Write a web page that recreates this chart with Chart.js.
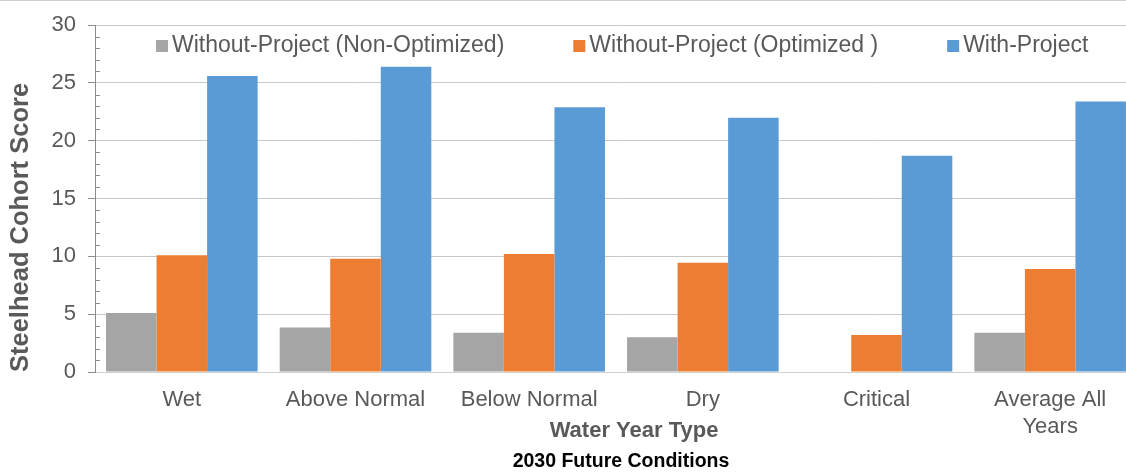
<!DOCTYPE html>
<html>
<head>
<meta charset="utf-8">
<script src="https://cdn.jsdelivr.net/npm/chart.js@4.4.1/dist/chart.umd.min.js"></script>
<style>
  html, body { margin: 0; padding: 0; background: #fff; overflow: hidden; }
  .wrap { position: relative; width: 1126px; height: 474px; overflow: hidden; }
  .topline { position: absolute; left: 0; top: 0; width: 1126px; height: 1px; background: #cfcfcf; }
  canvas { position: absolute; left: 0; top: 0; }
</style>
</head>
<body>
<div class="wrap">
  <canvas id="chart" width="1140" height="474"></canvas>
  <div class="topline"></div>
</div>
<script>
// values
const categories = ['Wet', 'Above Normal', 'Below Normal', 'Dry', 'Critical', ['Average All', 'Years']];
const seriesNames = ['Without-Project (Non-Optimized)', 'Without-Project (Optimized )', 'With-Project'];
const nonOptimized = [5.1, 3.85, 3.4, 3.0, 0, 3.4];
const optimized = [10.1, 9.8, 10.2, 9.45, 3.2, 8.9];
const withProject = [25.6, 26.4, 22.9, 22.0, 18.7, 23.4];
const yTicks = [0, 5, 10, 15, 20, 25, 30];
const colors = ['#a5a5a5', '#ed7d31', '#5b9bd5'];
const xTitle = 'Water Year Type';
const chartTitle = '2030 Future Conditions';

const textGray = '#595959';
const fontFamily = "'Liberation Sans', Arial, sans-serif";

// small inside ticks between the labelled ones
const minorTicks = {
  id: 'minorTicks',
  afterDraw(chart) {
    const y = chart.scales.y;
    const ctx = chart.ctx;
    ctx.save();
    ctx.strokeStyle = '#8c8c8c';
    ctx.lineWidth = 1;
    for (let v = y.min; v <= y.max; v++) {
      if (yTicks.includes(v)) continue;
      const py = Math.round(y.getPixelForValue(v)) + 0.5;
      ctx.beginPath();
      ctx.moveTo(y.right, py);
      ctx.lineTo(y.right + 5, py);
      ctx.stroke();
    }
    ctx.restore();
  }
};

// legend sits inside the plot, like the Excel one
const insideLegend = {
  id: 'insideLegend',
  afterDatasetsDraw(chart) {
    const ctx = chart.ctx;
    ctx.save();
    ctx.font = '23px ' + fontFamily;
    ctx.textBaseline = 'middle';
    let x = 156;
    const y = 46;
    chart.data.datasets.forEach(ds => {
      ctx.fillStyle = ds.backgroundColor;
      ctx.fillRect(x, y - 6, 12, 12);
      ctx.fillStyle = textGray;
      ctx.fillText(ds.label, x + 16, y);
      x += 16 + ctx.measureText(ds.label).width + 69;
    });
    ctx.restore();
  }
};

// the axis title and chart title are not centred on the plot in the original
const bottomTitles = {
  id: 'bottomTitles',
  afterDraw(chart) {
    const ctx = chart.ctx;
    ctx.save();
    ctx.textAlign = 'center';
    ctx.textBaseline = 'middle';
    ctx.font = 'bold 22px ' + fontFamily;
    ctx.fillStyle = textGray;
    ctx.fillText(xTitle, 634, 431);
    ctx.font = 'bold 19.5px ' + fontFamily;
    ctx.fillStyle = '#000';
    ctx.fillText(chartTitle, 621, 462);
    ctx.restore();
  }
};

const ctx = document.getElementById('chart').getContext('2d');
new Chart(ctx, {
  type: 'bar',
  data: {
    labels: categories,
    datasets: [
      { label: seriesNames[0], data: nonOptimized, backgroundColor: colors[0] },
      { label: seriesNames[1], data: optimized, backgroundColor: colors[1] },
      { label: seriesNames[2], data: withProject, backgroundColor: colors[2] }
    ]
  },
  options: {
    responsive: false,
    animation: false,
    layout: { padding: { top: 23, right: 3, bottom: 24, left: 0 } },
    datasets: {
      bar: { categoryPercentage: 0.873, barPercentage: 1.0, borderWidth: 0 }
    },
    plugins: {
      legend: { display: false },
      tooltip: { enabled: false },
      title: { display: false }
    },
    scales: {
      x: {
        grid: { display: false, drawTicks: false },
        border: { color: '#d0d0d0' },
        ticks: {
          color: textGray,
          font: { family: fontFamily, size: 22 },
          padding: 15,
          maxRotation: 0,
          autoSkip: false
        },
        afterFit(scale) { scale.height = 78; }
      },
      y: {
        min: 0,
        max: 30,
        afterBuildTicks(scale) { scale.ticks = yTicks.map(v => ({ value: v })); },
        grid: { color: '#c8c8c8', tickColor: '#8c8c8c', tickLength: 7 },
        border: { color: '#8c8c8c' },
        ticks: {
          color: textGray,
          font: { family: fontFamily, size: 22 },
          padding: 12
        },
        title: {
          display: true,
          align: 'start',
          text: 'Steelhead Cohort Score',
          color: textGray,
          font: { family: fontFamily, size: 25.5, weight: 'bold' },
          padding: { top: 6, bottom: 0 }
        },
        afterFit(scale) { scale.width = 95; }
      }
    }
  },
  plugins: [minorTicks, insideLegend, bottomTitles]
});
</script>
</body>
</html>
